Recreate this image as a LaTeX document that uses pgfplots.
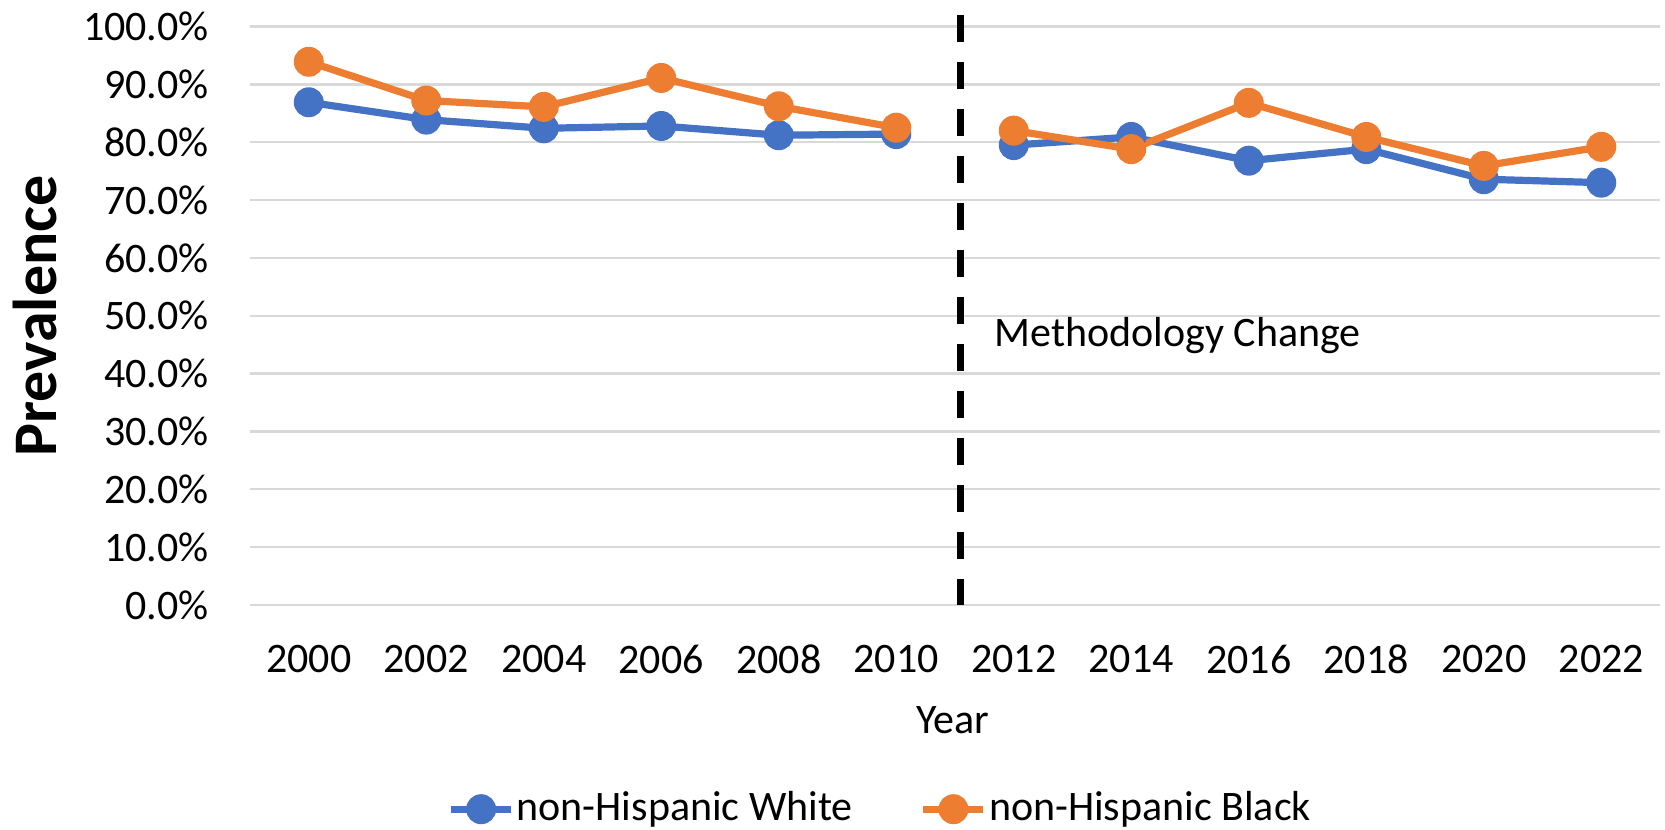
\documentclass[border=0pt]{standalone}
\usepackage{fontspec}
\setmainfont{Carlito}
\usepackage{pgfplots}
\pgfplotsset{compat=1.18}
\definecolor{xlblue}{HTML}{4472C4}
\definecolor{xlorange}{HTML}{ED7D31}
\definecolor{xlgrid}{HTML}{D9D9D9}
\begin{document}
\begin{tikzpicture}[font=\fontsize{10.5}{12}\selectfont]
\useasboundingbox (-62.5pt,-56.25pt) rectangle (353.75pt,151.25pt);
\begin{axis}[
  scale only axis,
  width=352.5pt, height=144.625pt,
  xmin=-0.5, xmax=11.5, ymin=0, ymax=100,
  axis x line=bottom, axis y line=left,
  axis line style={draw=none},
  major tick length=0pt,
  xtick={0,...,11},
  xticklabels={2000,2002,2004,2006,2008,2010,2012,2014,2016,2018,2020,2022},
  ytick={0,10,...,100},
  yticklabels={0.0\%,10.0\%,20.0\%,30.0\%,40.0\%,50.0\%,60.0\%,70.0\%,80.0\%,90.0\%,100.0\%},
  xticklabel style={yshift=-6.5pt},
  yticklabel style={xshift=-6.75pt},
  ymajorgrids, major grid style={xlgrid, line width=0.6pt},
  clip=false,
  unbounded coords=jump,
  legend columns=2,
  legend style={at={(axis description cs:0.447,-0.353)}, anchor=center, draw=none, fill=none,
    nodes={inner xsep=0.5pt},
    /tikz/every even column/.append style={column sep=16.25pt}},
  legend image code/.code={\draw[#1, mark repeat=2, mark phase=2] plot coordinates {(0pt,0pt) (7.5pt,0pt) (15pt,0pt)};},
]
\addplot[forget plot, black, line width=1.7pt, dash pattern=on 6.75pt off 5pt] coordinates {(5.55,102) (5.55,0)};
\addplot[xlblue, line width=1.8pt, mark=*, mark size=3.5pt, mark options={fill=xlblue, line width=0.5pt}]
coordinates {(0,86.9) (1,83.9) (2,82.4) (3,82.8) (4,81.2) (5,81.4) (5.5,nan) (6,79.5) (7,80.9) (8,76.8) (9,78.8) (10,73.6) (11,73.0)};
\addlegendentry{non-Hispanic White}
\addplot[xlorange, line width=1.8pt, mark=*, mark size=3.5pt, mark options={fill=xlorange, line width=0.5pt}]
coordinates {(0,93.9) (1,87.2) (2,86.1) (3,91.1) (4,86.2) (5,82.5) (5.5,nan) (6,82.0) (7,78.8) (8,86.8) (9,80.9) (10,75.9) (11,79.2)};
\addlegendentry{non-Hispanic Black}
\node[anchor=base west, inner sep=0pt] at (axis cs:5.83,44.65) {Methodology Change};
\end{axis}
\node[rotate=90, font=\fontsize{15.5}{18}\selectfont\bfseries] at (-53.75pt,72.3pt) {Prevalence};
\node at (175.75pt,-28.75pt) {Year};
\end{tikzpicture}
\end{document}
